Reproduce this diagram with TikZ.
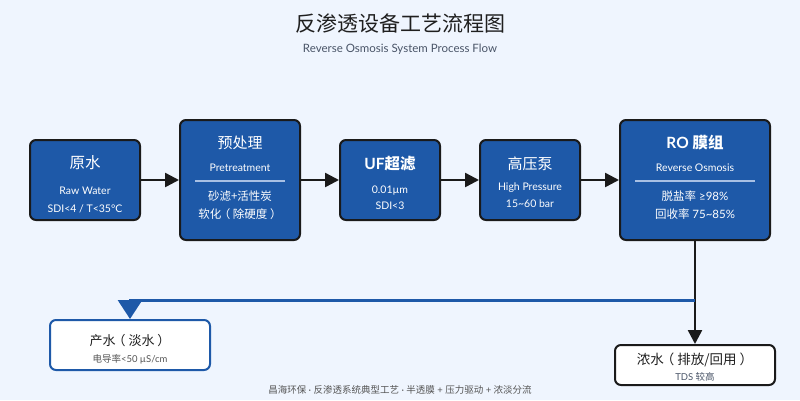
\documentclass[tikz,border=0pt]{standalone}
\usepackage{fontspec}
\setmainfont{Lato}
\newfontfamily\cjk{Noto Sans CJK SC}
\usetikzlibrary{arrows.meta}
\definecolor{bg}{HTML}{EFF5FE}
\definecolor{boxblue}{HTML}{1E59A8}
\definecolor{edgec}{HTML}{1A1A1A}
\definecolor{divline}{HTML}{A8C0E4}
\definecolor{titlec}{HTML}{1F1F1F}
\definecolor{subc}{HTML}{4A5568}
\definecolor{footc}{HTML}{555555}
\newcommand{\setfs}[1]{\fontsize{#1}{#1}\selectfont}
\newcommand{\lp}{\hspace{-0.22em}{\cjk （}\hspace{0.22em}}
\newcommand{\rp}{\hspace{0.22em}{\cjk ）}\hspace{-0.22em}}
\tikzset{
  proc/.style={draw=edgec, line width=2pt, fill=boxblue, rounded corners=6pt},
  prodbox/.style={draw=boxblue, line width=2pt, fill=white, rounded corners=6pt},
  concbox/.style={draw=edgec, line width=2pt, fill=white, rounded corners=6pt},
  lbl/.style={inner sep=0pt, text=white, anchor=center},
  flow/.style={draw=edgec, line width=2.5pt, -{Triangle[length=14pt,width=14pt]}},
  blueflow/.style={draw=boxblue, line width=3pt, -{Triangle[length=19pt,width=24pt]}},
  divider/.style={draw=divline, line width=2pt},
}
\begin{document}
\begin{tikzpicture}[x=1pt,y=-1pt]
\fill[bg] (0,0) rectangle (800,400);
\useasboundingbox (0,0) rectangle (800,400);

% titles
\node[inner sep=0pt, text=titlec] (title) at (400,24) {\setfs{21}\cjk 反渗透设备工艺流程图};
\node[inner sep=0pt, text=subc] (subtitle) at (400,49) {\setfs{11.5}Reverse Osmosis System Process Flow};

% boxes
\node[proc, minimum width=110, minimum height=80] (raw) at (85,180) {};
\node[proc, minimum width=120, minimum height=120] (pre) at (240,180) {};
\node[proc, minimum width=100, minimum height=80] (uf) at (390,180) {};
\node[proc, minimum width=100, minimum height=80] (pump) at (530,180) {};
\node[proc, minimum width=150, minimum height=120] (ro) at (695,180) {};
\node[prodbox, minimum width=160, minimum height=50] (prod) at (130,345) {};
\node[concbox, minimum width=160, minimum height=40] (conc) at (695,365) {};

% raw
\node[lbl] (rawT) at (85,163) {\setfs{15.5}\cjk 原水};
\node[lbl] (rawA) at (85,191) {\setfs{10.5}Raw Water};
\node[lbl] (rawB) at (85,209) {\setfs{10.5}SDI<4 / T<35°C};

% pretreatment
\node[lbl] (preT) at (240,143) {\setfs{15}\cjk 预处理};
\node[lbl] (preA) at (240,168) {\setfs{10.5}Pretreatment};
\draw[divider] (195,181) -- (285,181);
\node[lbl] (preB) at (240,196) {\setfs{11.5}\cjk 砂滤+活性炭};
\node[lbl] (preC) at (240,214) {\setfs{11.5}{\cjk 软化}\lp{\cjk 除硬度}\rp};

% UF
\node[lbl] (ufT) at (390,164) {\setfs{15.5}\bfseries UF{\cjk\bfseries 超滤}};
\node[lbl] (ufA) at (390,191) {\setfs{10.5}0.01µm};
\node[lbl] (ufB) at (390,206) {\setfs{10.5}SDI<3};

% pump
\node[lbl] (pumpT) at (530,164) {\setfs{15}\cjk 高压泵};
\node[lbl] (pumpA) at (530,188) {\setfs{10.5}High Pressure};
\node[lbl] (pumpB) at (530,204) {\setfs{10.5}15\textasciitilde 60 bar};

% RO
\node[lbl] (roT) at (695,143) {\setfs{15.5}\bfseries RO {\cjk\bfseries 膜组}};
\node[lbl] (roA) at (695,168) {\setfs{10.5}Reverse Osmosis};
\draw[divider] (635,181) -- (755,181);
\node[lbl] (roB) at (695,196) {\setfs{11.5}{\cjk 脱盐率} ≥98\%};
\node[lbl] (roC) at (695,214) {\setfs{11.5}{\cjk 回收率} 75\textasciitilde 85\%};

% product
\node[lbl, text=titlec] (prodT) at (130,341) {\setfs{13}{\cjk 产水}\lp{\cjk 淡水}\rp};
\node[lbl, text=footc] (prodA) at (130,359) {\setfs{9.5}{\cjk 电导率}<50 µS/cm};

% concentrate
\node[lbl, text=titlec] (concT) at (695,360) {\setfs{13.5}{\cjk 浓水}\lp{\cjk 排放/回用}\rp};
\node[lbl, text=subc] (concA) at (695,377) {\setfs{9.5}TDS {\cjk 较高}};

% footer
\node[inner sep=0pt, text=footc] (foot) at (400,390) {\setfs{9.5}{\cjk 昌海环保} · {\cjk 反渗透系统典型工艺} · {\cjk 半透膜} + {\cjk 压力驱动} + {\cjk 浓淡分流}};

% connectors
\draw[flow] (raw) -- (pre);
\draw[flow] (pre) -- (uf);
\draw[flow] (uf) -- (pump);
\draw[flow] (pump) -- (ro);
\draw[flow] (ro) -- (conc);
\coordinate (split) at (695,300);
\draw[blueflow] (split) -| (prod.north);
\end{tikzpicture}
\end{document}
